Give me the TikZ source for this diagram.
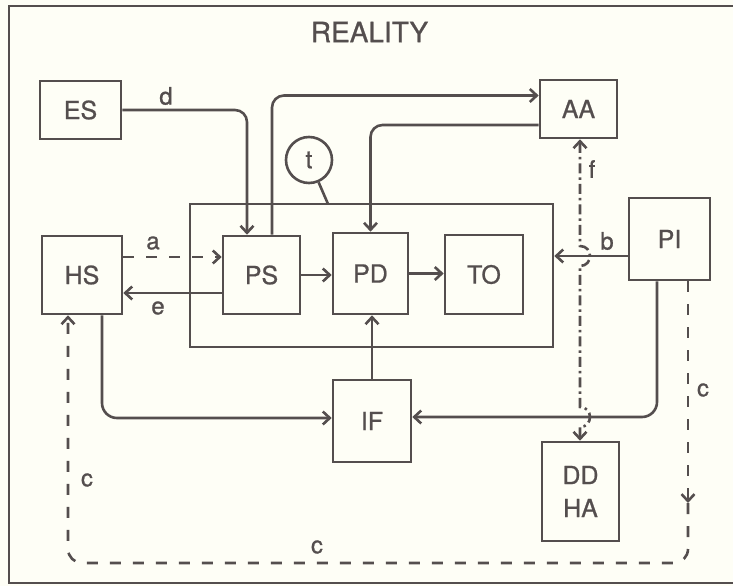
\documentclass[tikz,border=0pt]{standalone}
\usepackage{fontspec}
\setmainfont{TeX Gyre Heros}
\newfontfamily\medfont{TeX Gyre Heros}[FakeBold=0.8]
\usetikzlibrary{arrows.meta,calc}
\definecolor{ink}{RGB}{84,78,78}
\definecolor{paper}{RGB}{254,254,246}
\tikzset{
 box/.style={draw=ink, line width=2.6pt, inner sep=0pt, text=ink, font=\medfont\fontsize{25}{33}\selectfont, align=center},
 lab/.style={text=ink, font=\medfont\fontsize{24}{28}\selectfont, inner sep=0pt},
 conn/.style={draw=ink, line width=2.6pt},
 arr/.style={conn, -{Straight Barb[length=7pt,width=13pt]}},
 darr/.style={conn, {Straight Barb[length=7pt,width=13pt]}-{Straight Barb[length=7pt,width=13pt]}},
 dsh/.style={dash pattern=on 11pt off 12pt},
 dshdot/.style={dash pattern=on 10pt off 4pt on 2.5pt off 4pt},
}
\begin{document}
\begin{tikzpicture}[x=1pt,y=-1pt]
\useasboundingbox (0,0) rectangle (733,586);
\fill[paper] (0,0) rectangle (733,586);
% frame
\draw[ink, line width=2.8pt] (733,6) -- (9,6) -- (9,583) -- (733,583);
\node[lab, font=\medfont\fontsize{28}{32}\selectfont] (title) at (369.5,32) {REALITY};

% boxes
\node[box, minimum width=81pt, minimum height=58pt] (ES) at (80.5,110) {ES};
\node[box, minimum width=80pt, minimum height=78pt] (HS) at (82,275) {HS};
\node[box, minimum width=363pt, minimum height=143pt] (big) at (371.5,275.5) {};
\node[box, minimum width=77pt, minimum height=78pt] (PS) at (261.5,275) {PS};
\node[box, minimum width=75pt, minimum height=81pt] (PD) at (370.5,273.5) {PD};
\node[box, minimum width=78pt, minimum height=79pt] (TO) at (484,274.5) {TO};
\node[box, circle, minimum size=46pt] (t) at (309,160) {t};
\node[box, minimum width=77pt, minimum height=58pt] (AA) at (578.5,109) {AA};
\node[box, minimum width=81pt, minimum height=82pt] (PI) at (669.5,239) {PI};
\node[box, minimum width=78pt, minimum height=82pt] (IF) at (372,421) {IF};
\node[box, minimum width=77pt, minimum height=99pt] (DD) at (580.5,491.5) {DD\\HA};

% t to big box
\coordinate (tb) at (328,204);
\draw[conn] (t) -- (tb);

% connectors
\draw[arr, rounded corners=12pt] (ES.east) -| ([xshift=-14.5pt]PS.north);
\draw[arr, rounded corners=12pt] ([xshift=10.5pt]PS.north) |- ([yshift=13.5pt]AA.west);
\draw[arr, rounded corners=12pt] ([yshift=-16pt]AA.west) -| (PD.north);
\draw[arr, dsh] ([yshift=18pt]HS.east) -- ([yshift=18pt]HS.east -| PS.west);
\draw[arr] ([yshift=-18pt]PS.west) -- ([yshift=-18pt]PS.west -| HS.east);
\draw[arr] (PS.east) -- (PS.east -| PD.west);
\draw[arr] (PD.east) -- (PD.east -| TO.west);
\draw[arr] ([yshift=-17pt]PI.west) -- ([yshift=-17pt]PI.west -| big.east);
\draw[arr] (IF.north) -- (IF.north |- PD.south);
\draw[arr, rounded corners=15pt] ([xshift=20pt]HS.south) |- ([yshift=3pt]IF.west);
\draw[arr, rounded corners=15pt] ([xshift=-12.5pt]PI.south) |- ([yshift=4pt]IF.east);

% f dash-dot with hops
\coordinate (fx) at (580,0);
\draw[darr, dshdot] (DD.north -| fx) -- (580,427) .. controls (593.3,427) and (593.3,407) .. (580,407)
  -- (580,266) .. controls (593.3,266) and (593.3,246) .. (580,246) -- (AA.south -| fx);

% c dashed loop
\coordinate (cm) at (688,503);
\coordinate (cb) at (688,563);
\draw[arr, dsh] ([xshift=18.5pt]PI.south) -- (cm);
\draw[arr, dsh, rounded corners=14pt] (cm) -- (cb) -| ([xshift=-14pt]HS.south);

% labels
\node[lab] (ld) at (166,96) {d};
\node[lab] (la) at (153,243) {a};
\node[lab] (le) at (158,308) {e};
\node[lab] (lb) at (607,241) {b};
\node[lab] (lf) at (592,169) {f};
\node[lab] (lc1) at (703,390) {c};
\node[lab] (lc2) at (317,547) {c};
\node[lab] (lc3) at (87,480) {c};
\end{tikzpicture}
\end{document}
